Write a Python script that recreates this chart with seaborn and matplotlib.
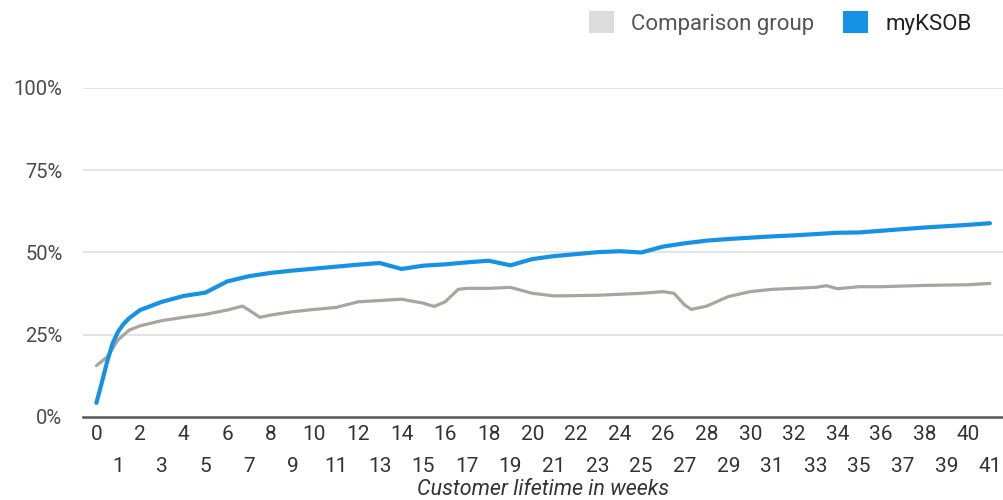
import pandas as pd
import numpy as np
import matplotlib
matplotlib.use('Agg')
import matplotlib.pyplot as plt
import seaborn as sns
from matplotlib.patches import Patch

# Values (percent)
weeks_myksob = [0, 0.25, 0.5, 0.75, 1, 1.25, 1.5, 2, 3, 4, 5, 6, 7, 8, 9, 10, 11, 12, 13, 14, 15, 16,
                17, 18, 19, 20, 21, 22, 23, 24, 25, 26, 27, 28, 29, 30, 31, 32, 33, 34, 35, 36, 37,
                38, 39, 40, 41]
myksob = [4.3, 10.5, 17, 22.5, 26, 28.3, 30, 32.5, 35, 36.8, 37.8, 41.2, 42.8, 43.8, 44.5, 45.1,
          45.7, 46.3, 46.8, 45, 46, 46.4, 47, 47.5, 46.1, 48, 48.9, 49.5, 50.1, 50.4, 50, 51.8,
          52.8, 53.6, 54.1, 54.5, 54.9, 55.2, 55.6, 56, 56.1, 56.6, 57.1, 57.6, 58, 58.4, 58.9]

weeks_comp = [0, 0.5, 1, 1.5, 2, 3, 4, 5, 6, 6.7, 7, 7.5, 8, 9, 10, 11, 12, 13, 14, 15, 15.5, 16, 16.6,
              17, 18, 19, 20, 21, 22, 23, 24, 25, 26, 26.5, 27, 27.3, 28, 29, 30, 31, 32, 33, 33.5,
              34, 35, 36, 37, 38, 39, 40, 41]
comparison = [15.6, 18.3, 23.5, 26.4, 27.7, 29.3, 30.3, 31.2, 32.5, 33.7, 32.5, 30.3, 31, 32, 32.7,
              33.3, 35, 35.4, 35.8, 34.6, 33.6, 35, 38.8, 39.1, 39.1, 39.4, 37.6, 36.8, 36.9, 37,
              37.3, 37.6, 38.1, 37.6, 34, 32.7, 33.7, 36.6, 38.1, 38.8, 39.1, 39.4, 39.9, 39,
              39.6, 39.6, 39.8, 40, 40.1, 40.2, 40.6]

y_ticks = [0, 25, 50, 75, 100]
series_names = ['Comparison group', 'myKSOB']

blue = '#1592e6'
grey_line = '#aaa49e'
grey_patch = '#dcdcdc'

sns.set_style('white')
plt.rcParams['font.family'] = ['Roboto', 'DejaVu Sans']

fig = plt.figure(figsize=(10.04, 5.0), dpi=100)
ax = fig.add_axes([0.083, 0.166, 0.916, 0.658])

for y in y_ticks[1:]:
    ax.axhline(y, color='#e2e2e2', lw=1.3, zorder=0)

sns.lineplot(x=weeks_comp, y=comparison, ax=ax, color=grey_line, lw=2.3, zorder=2,
             solid_joinstyle='round', solid_capstyle='round')
sns.lineplot(x=weeks_myksob, y=myksob, ax=ax, color=blue, lw=3.0, zorder=3,
             solid_joinstyle='round', solid_capstyle='round')

ax.set_xlim(-0.6, 41.6)
ax.set_ylim(0, 100)
ax.set_yticks(y_ticks)
ax.set_yticklabels([f'{v}%' for v in y_ticks], fontsize=14.5, color='#4a4a4a')
ax.tick_params(axis='y', length=0, pad=15)

ax.set_xticks(range(0, 41, 2))
ax.set_xticklabels([str(w) for w in range(0, 41, 2)], fontsize=15, color='#333333')
ax.set_xticks(range(1, 42, 2), minor=True)
ax.set_xticklabels([str(w) for w in range(1, 42, 2)], minor=True, fontsize=15, color='#333333')
ax.tick_params(axis='x', which='major', length=0, pad=6)
ax.tick_params(axis='x', which='minor', length=0, pad=29)

ax.set_xlabel('Customer lifetime in weeks', fontsize=15.5, style='italic', color='#333333',
              labelpad=2)
ax.set_ylabel('')

for side in ['top', 'right', 'left']:
    ax.spines[side].set_visible(False)
ax.spines['bottom'].set_color('#555555')
ax.spines['bottom'].set_linewidth(1.8)

handles = [Patch(facecolor=grey_patch, edgecolor='none'), Patch(facecolor=blue, edgecolor='none')]
leg = fig.legend(handles, series_names, loc='center right', bbox_to_anchor=(0.968, 0.954), ncol=2,
                 frameon=False, fontsize=16, handlelength=1.1, handleheight=1.1,
                 columnspacing=1.3, handletextpad=0.8, borderpad=0, borderaxespad=0)
leg.get_texts()[0].set_color('#555555')
leg.get_texts()[1].set_color('#222222')

fig.savefig('out.png', dpi=100)
